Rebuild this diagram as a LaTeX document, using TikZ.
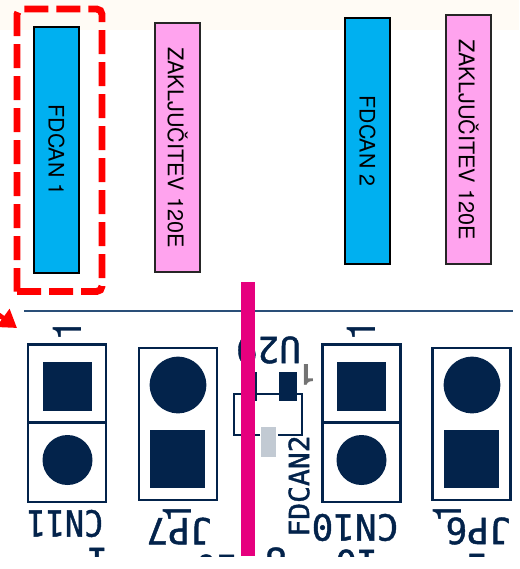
\documentclass[tikz,border=0pt]{standalone}
\usepackage{fontspec}
\setmainfont{TeX Gyre Heros}
\setmonofont[FakeBold=1.2]{DejaVu Sans Mono}
\newfontfamily\labelfont{TeX Gyre Heros}
\usetikzlibrary{arrows.meta}
\definecolor{canblue}{HTML}{00B0F0}
\definecolor{termpink}{HTML}{FFA3EE}
\definecolor{navy}{HTML}{03234B}
\definecolor{edgeblue}{HTML}{2A4F78}
\definecolor{cream}{HTML}{FFFBF5}
\definecolor{padgrey}{HTML}{C2CAD3}
\definecolor{bar}{HTML}{E6007E}
\tikzset{
	canbox/.style={draw=black,line width=1.1pt,fill=canblue,minimum width=184.5pt,minimum height=33.75pt,inner sep=0pt,rotate=-90,font=\labelfont\fontsize{16}{18}\selectfont},
	termbox/.style={draw=black!85,line width=1.1pt,fill=termpink,minimum width=186.75pt,minimum height=33.75pt,inner sep=0pt,rotate=-90,font=\labelfont\fontsize{16.2}{18}\selectfont},
	cell/.style={draw=navy,line width=1.9pt,inner sep=0pt},
	padsq/.style={fill=navy,inner sep=0pt},
	padround/.style={circle,fill=navy,inner sep=0pt},
	pcbtxt/.style={text=navy,inner sep=0pt,rotate=180,font=\fontsize{27}{30}\ttfamily},
	pinone/.style={text=navy,inner sep=0pt,rotate=90,font=\labelfont\fontsize{30}{32}\selectfont}
}
\begin{document}
\begin{tikzpicture}[x=0.75pt,y=-0.75pt]
	\useasboundingbox(0,0)rectangle(519,569);
	\fill[cream](0,0)rectangle(519,30);
	% upper row
	\node[canbox](can1)at(56.5,150){FDCAN 1};
	\node[termbox](term1)at(177.5,147.5){ZAKLJUČITEV 120E};
	\node[canbox](can2)at(367.5,141){FDCAN 2};
	\node[termbox](term2)at(468.5,139.5){ZAKLJUČITEV 120E};
	\draw[red,line width=5.2pt,rounded corners=4pt,dash pattern=on 18pt off 6pt](17,291.5)--(102,291.5)--(102,9)--(17,9)--(17,291.5);
	% red arrow, cut by the page edge
	\coordinate(arrowstart)at(-30,294);
	\coordinate(arrowend)at(17,328);
	\draw[red,line width=3.5pt,-{Triangle[length=13pt,width=16pt]}](arrowstart)--(arrowend);
	\coordinate(edgel)at(24,311);
	\coordinate(edger)at(513,311);
	\draw[edgeblue,line width=1.9pt](edgel)--(edger);
	\begin{scope}
		\clip(0,280)rectangle(519,556);
		% CN11
		\node[cell,minimum width=58.5pt,minimum height=58.5pt](cn11a)at(67,383.5){};
		\node[cell,minimum width=58.5pt,minimum height=60pt](cn11b)at(67,462){};
		\node[padsq,minimum size=36.75pt](cn11p)at(67.5,386.5){};
		\node[padround,minimum size=37.5pt](cn11q)at(67.5,460){};
		\node[pcbtxt,xscale=.88](cn11t)at(65,523.5){CN11};
		\node[pinone](cn11n)at(67.5,330){1};
		% JP7
		\node[cell,minimum width=58.5pt,minimum height=114pt](jp7)at(178,424){};
		\node[padround,minimum size=42.5pt](jp7q)at(178,385){};
		\node[padsq,minimum width=41.25pt,minimum height=43.5pt](jp7p)at(177.5,459){};
		\node[pcbtxt](jp7t)at(179,531){JP7};
		\node[pinone](jp7n)at(177.5,512){1};
		% U29
		\draw[navy,line width=1.9pt](260,435)--(234,435)--(234,394)--(302,394)--(302,435)--(278,435);
		\fill[navy](241,372)rectangle(257,401);
		\node[padsq,minimum width=13.5pt,minimum height=21.75pt](u29a)at(288,386.5){};
		\node[fill=padgrey,inner sep=0pt,minimum width=11.25pt,minimum height=22.5pt](u29b)at(268.5,442){};
		\node[pcbtxt](u29t)at(268.5,350){U29};
		\node[inner sep=0pt,text=black!55,rotate=180,font=\labelfont\bfseries\fontsize{22}{24}\selectfont](u29n)at(307,375){1};
		\node[pcbtxt,rotate=-90,font=\fontsize{21}{24}\ttfamily](fdcant)at(299,486){FDCAN2};
		% CN10
		\node[cell,minimum width=58.5pt,minimum height=58.5pt](cn10a)at(361.5,383.5){};
		\node[cell,minimum width=58.5pt,minimum height=60pt](cn10b)at(361.5,462){};
		\node[padsq,minimum size=36.75pt](cn10p)at(361.5,386.5){};
		\node[padround,minimum size=37.5pt](cn10q)at(361.5,460){};
		\node[pcbtxt](cn10t)at(355,527.5){CN10};
		\node[pinone](cn10n)at(361.5,330){1};
		% JP6
		\node[cell,minimum width=58.5pt,minimum height=114pt](jp6)at(471.5,424){};
		\node[padround,minimum size=42.5pt](jp6q)at(472,385){};
		\node[padsq,minimum width=41.25pt,minimum height=43.5pt](jp6p)at(471.5,459){};
		\node[pcbtxt](jp6t)at(478,531){JP6};
		\node[pinone](jp6n)at(447,512){1};
		% cut labels at the lower edge
		\node[pcbtxt](low1)at(98,561){1};
		\node[pcbtxt](low2)at(217,568){10};
		\node[pcbtxt](low3)at(276,561){8};
		\node[pcbtxt](low4)at(357,563){10};
		\node[pcbtxt](low5)at(478,567){1};
		\fill[bar](241,282)rectangle(255,556);
	\end{scope}
\end{tikzpicture}
\end{document}
